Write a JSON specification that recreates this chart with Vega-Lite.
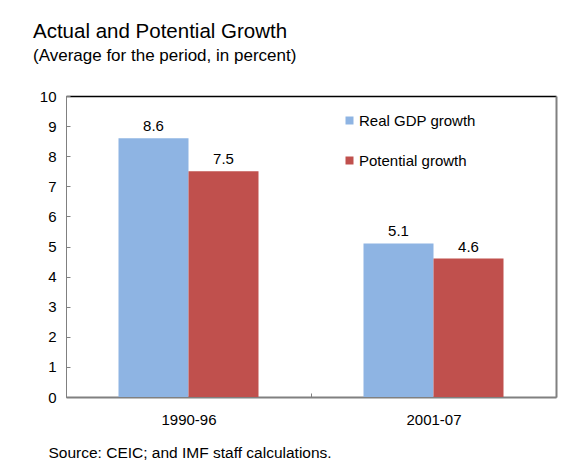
{
  "$schema": "https://vega.github.io/schema/vega-lite/v6.json",
  "autosize": {"type": "none"},
  "width": 490,
  "height": 301,
  "padding": {"left": 66, "top": 96, "right": 30, "bottom": 64},
  "background": "white",
  "title": {
    "text": "Actual and Potential Growth",
    "subtitle": "(Average for the period, in percent)",
    "anchor": "start",
    "frame": "group",
    "dx": -33,
    "offset": 25,
    "font": "Liberation Sans",
    "fontSize": 20.5,
    "fontWeight": "normal",
    "color": "#000000",
    "subtitleFont": "Liberation Sans",
    "subtitleFontSize": 17,
    "subtitleColor": "#000000",
    "subtitlePadding": 6
  },
  "config": {
    "view": {"stroke": null},
    "font": "Liberation Sans",
    "text": {"font": "Liberation Sans"}
  },
  "data": {
    "values": [
      {"period": "1990-96", "series": "Real GDP growth", "value": 8.6},
      {"period": "1990-96", "series": "Potential growth", "value": 7.5},
      {"period": "2001-07", "series": "Real GDP growth", "value": 5.1},
      {"period": "2001-07", "series": "Potential growth", "value": 4.6}
    ]
  },
  "layer": [
    {
      "mark": {"type": "bar"},
      "encoding": {
        "x": {
          "field": "period",
          "type": "nominal",
          "scale": {"paddingInner": 0, "paddingOuter": 0},
          "axis": {
            "orient": "bottom",
            "title": "Source: CEIC; and IMF staff calculations.",
            "titleFont": "Liberation Sans",
            "titleFontSize": 15.5,
            "titleFontWeight": "normal",
            "titleColor": "#000000",
            "titleAnchor": "start",
            "titleAlign": "left",
            "titleBaseline": "alphabetic",
            "titleX": -18,
            "titleY": 60.5,
            "labelAngle": 0,
            "labelFont": "Liberation Sans",
            "labelFontSize": 15,
            "labelColor": "#000000",
            "labelPadding": 19,
            "domainColor": "#808080",
            "domainWidth": 2,
            "tickBand": "extent",
            "tickColor": "#808080",
            "tickSize": -4
          }
        },
        "xOffset": {
          "field": "series",
          "type": "nominal",
          "scale": {"domain": ["Real GDP growth", "Potential growth"], "paddingInner": 0, "paddingOuter": 0.75}
        },
        "y": {
          "field": "value",
          "type": "quantitative",
          "scale": {"domain": [0, 10], "nice": false},
          "axis": {
            "orient": "left",
            "title": null,
            "values": [0, 1, 2, 3, 4, 5, 6, 7, 8, 9, 10],
            "grid": false,
            "labelFont": "Liberation Sans",
            "labelFontSize": 15,
            "labelColor": "#000000",
            "labelPadding": 14,
            "domainColor": "#808080",
            "domainWidth": 1,
            "tickColor": "#808080",
            "tickSize": -4
          }
        },
        "color": {
          "field": "series",
          "type": "nominal",
          "scale": {"domain": ["Real GDP growth", "Potential growth"], "range": ["#8EB4E3", "#C0504D"]},
          "legend": {
            "title": null,
            "orient": "none",
            "legendX": 276,
            "legendY": 17,
            "symbolType": "square",
            "symbolSize": 64,
            "symbolStrokeWidth": 0,
            "symbolOpacity": 1,
            "labelFont": "Liberation Sans",
            "labelFontSize": 15,
            "labelColor": "#000000",
            "labelOffset": 2,
            "rowPadding": 24
          }
        }
      }
    },
    {
      "mark": {"type": "text", "dy": -12, "fontSize": 15, "color": "#000000", "font": "Liberation Sans"},
      "encoding": {
        "x": {
          "field": "period",
          "type": "nominal",
          "axis": {"orient": "top", "title": null, "labels": false, "ticks": false, "domainColor": "#000000", "domainWidth": 1.5}
        },
        "xOffset": {"field": "series", "type": "nominal"},
        "y": {
          "field": "value",
          "type": "quantitative",
          "axis": {"orient": "right", "title": null, "labels": false, "ticks": false, "grid": false, "domainColor": "#808080", "domainWidth": 2}
        },
        "text": {"field": "value", "type": "quantitative", "format": ".1f"}
      }
    }
  ]
}
